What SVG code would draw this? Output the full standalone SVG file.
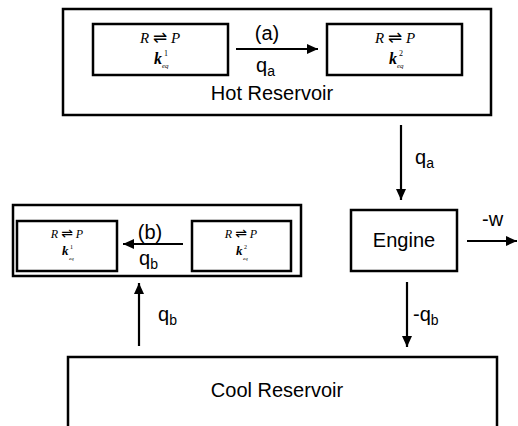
<svg xmlns="http://www.w3.org/2000/svg" width="518" height="426" viewBox="0 0 518 426">
<defs>
<marker id="ah" markerUnits="userSpaceOnUse" markerWidth="11" markerHeight="10" refX="11" refY="5" orient="auto">
<path d="M0,0 L11,5 L0,10 z" fill="#000"/>
</marker>
<style>
.box{fill:#fff;stroke:#000;stroke-width:2.5}
.lbl{font-family:"Liberation Sans",Arial,sans-serif;font-size:20px;fill:#000}
.big{font-family:"Liberation Sans",Arial,sans-serif;font-size:20px;fill:#000;text-anchor:middle}
.rx{font-family:"Liberation Serif","DejaVu Serif",serif;font-style:italic;fill:#000;text-anchor:middle}
.eq{font-style:normal;font-family:"DejaVu Sans",sans-serif}
.k{font-family:"Liberation Serif",serif;font-style:italic;font-weight:bold;fill:#000}
.sm{font-family:"Liberation Serif",serif;fill:#000}
.conn{stroke:#000;stroke-width:2.2;fill:none;marker-end:url(#ah)}
</style>
</defs>
<rect width="518" height="426" fill="#fff"/>
<g id="hot-reservoir">
<rect class="box" x="63" y="9" width="428" height="106"/>
<text class="big" x="272" y="100">Hot Reservoir</text>
</g>
<g id="hot-state-1">
<rect class="box" x="93" y="24" width="135" height="51"/>
<text class="rx" x="160" y="43" font-size="15">R <tspan class="eq" font-size="17">⇌</tspan> P</text>
<text class="k" x="154" y="64" font-size="16">k</text>
<text class="sm" x="164" y="56" font-size="8">1</text>
<text class="sm" x="162" y="68" font-size="7" font-style="italic">eq</text>
</g>
<g id="hot-state-2">
<rect class="box" x="327" y="24" width="135" height="51"/>
<text class="rx" x="395" y="43" font-size="15">R <tspan class="eq" font-size="17">⇌</tspan> P</text>
<text class="k" x="389" y="64" font-size="16">k</text>
<text class="sm" x="399" y="56" font-size="8">2</text>
<text class="sm" x="397" y="68" font-size="7" font-style="italic">eq</text>
</g>
<g id="cold-group">
<rect class="box" x="13" y="205" width="288" height="71" stroke-width="2.8"/>
</g>
<g id="cold-state-1">
<rect class="box" x="17" y="221" width="100" height="50" stroke-width="3"/>
<text class="rx" x="67" y="238" font-size="12">R <tspan class="eq" font-size="14">⇌</tspan> P</text>
<text class="k" x="62" y="255" font-size="13">k</text>
<text class="sm" x="70" y="249" font-size="6">1</text>
<text class="sm" x="69" y="260" font-size="5" font-style="italic">eq</text>
</g>
<g id="cold-state-2">
<rect class="box" x="192" y="221" width="99" height="50"/>
<text class="rx" x="241" y="238" font-size="12">R <tspan class="eq" font-size="14">⇌</tspan> P</text>
<text class="k" x="236" y="255" font-size="13">k</text>
<text class="sm" x="244" y="249" font-size="6">2</text>
<text class="sm" x="243" y="260" font-size="5" font-style="italic">eq</text>
</g>
<g id="engine">
<rect class="box" x="351" y="210" width="106" height="61"/>
<text class="big" x="404" y="247">Engine</text>
</g>
<g id="cool-reservoir">
<rect class="box" x="68" y="357" width="429" height="90"/>
<text class="big" x="277" y="397">Cool Reservoir</text>
</g>
<g id="connectors">
<path class="conn" d="M236,49 L318,49"/>
<path class="conn" d="M401,125 L401,200"/>
<path class="conn" d="M467,241 L517,241"/>
<path class="conn" d="M407,282 L407,347"/>
<path class="conn" d="M139,346 L139,283"/>
<path class="conn" d="M183,244 L123,244"/>
</g>
<g id="labels">
<text class="lbl" x="267" y="40" text-anchor="middle">(a)</text>
<text class="lbl" x="256" y="72">q<tspan font-size="14" dy="4">a</tspan></text>
<text class="lbl" x="415" y="164">q<tspan font-size="14" dy="4">a</tspan></text>
<text class="lbl" x="482" y="226">-w</text>
<text class="lbl" x="413" y="321">-q<tspan font-size="14" dy="4">b</tspan></text>
<text class="lbl" x="158" y="321">q<tspan font-size="14" dy="4">b</tspan></text>
<text class="lbl" x="150" y="239" text-anchor="middle">(b)</text>
<text class="lbl" x="139" y="265">q<tspan font-size="14" dy="4">b</tspan></text>
</g>
</svg>
